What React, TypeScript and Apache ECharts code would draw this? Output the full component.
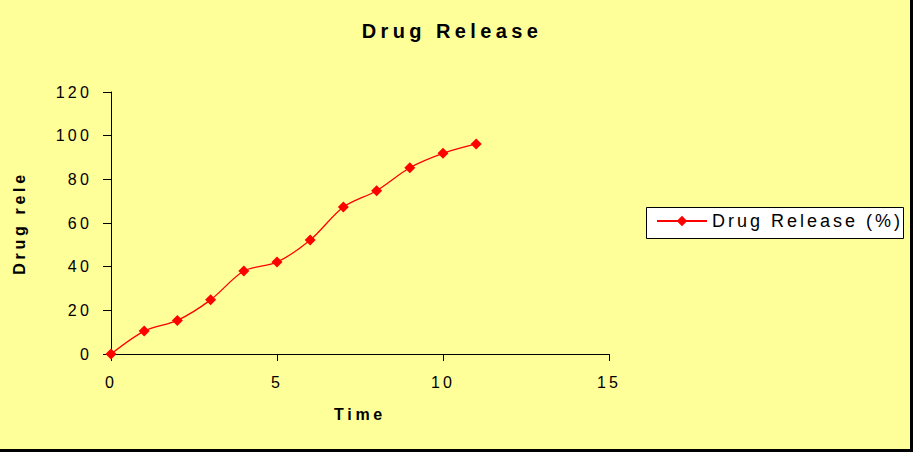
import React, { useEffect, useRef } from "react";
import * as echarts from "echarts";

const timePoints = [0, 1, 2, 3, 4, 5, 6, 7, 8, 9, 10, 11];
const releaseValues = [0, 10.5, 15.4, 24.8, 38, 42.1, 52.2, 67.3, 74.8, 85.3, 91.9, 96.2];
const xTicks = { min: 0, max: 15, interval: 5 };
const yTicks = { min: 0, max: 120, interval: 20 };
const seriesName = "Drug Release (%)";
const chartTitle = "Drug Release";
const xAxisTitle = "Time";
const yAxisTitle = "Drug rele";

export default function App() {
  const ref = useRef<HTMLDivElement>(null);
  useEffect(() => {
    if (!ref.current) return;
    const el = ref.current;
    const chart = echarts.init(el, undefined, { renderer: "svg" });
    const font = "'Liberation Sans', Arial, sans-serif";

    const spacingFor = (t: string): number => {
      if (t === chartTitle) return 4.4;
      if (t === seriesName) return 3;
      if (t === xAxisTitle || t === yAxisTitle) return 3.7;
      return 3.2;
    };
    const applySpacing = () => {
      el.querySelectorAll("text").forEach((node) => {
        const t = (node.textContent || "").trim();
        if (!t) return;
        (node as SVGTextElement).style.letterSpacing = spacingFor(t) + "px";
      });
    };
    chart.on("finished", applySpacing);

    chart.setOption({
      animation: false,
      backgroundColor: "#FFFF99",
      title: {
        text: chartTitle,
        left: 447,
        top: 16,
        textAlign: "center",
        textStyle: { fontFamily: font, fontSize: 20, fontWeight: "bold", color: "#000" },
      },
      grid: { left: 111, right: 311, top: 92, bottom: 98, containLabel: false },
      legend: {
        show: true,
        orient: "vertical",
        left: 646,
        top: 206,
        backgroundColor: "transparent",
        borderWidth: 0,
        padding: [6, 2, 7, 10],
        itemWidth: 50,
        itemHeight: 13,
        itemGap: 6,
        textStyle: { fontFamily: font, fontSize: 18, color: "#000" },
        data: [{ name: seriesName }],
      },
      xAxis: {
        type: "value",
        min: xTicks.min,
        max: xTicks.max,
        interval: xTicks.interval,
        name: xAxisTitle,
        nameLocation: "middle",
        nameGap: 52,
        nameTextStyle: { fontFamily: font, fontSize: 16, fontWeight: "bold", color: "#000" },
        axisLine: { lineStyle: { color: "#000", width: 1 } },
        axisTick: { show: true, inside: false, length: 7, lineStyle: { color: "#000" } },
        axisLabel: { fontFamily: font, fontSize: 16, color: "#000", margin: 20 },
        splitLine: { show: false },
      },
      yAxis: {
        type: "value",
        min: yTicks.min,
        max: yTicks.max,
        interval: yTicks.interval,
        name: yAxisTitle,
        nameLocation: "middle",
        nameRotate: 90,
        nameGap: 84,
        nameTextStyle: { fontFamily: font, fontSize: 16, fontWeight: "bold", color: "#000" },
        axisLine: { show: true, lineStyle: { color: "#000", width: 1 } },
        axisTick: { show: true, inside: false, length: 8, lineStyle: { color: "#000" } },
        axisLabel: { fontFamily: font, fontSize: 16, color: "#000", margin: 19 },
        splitLine: { show: false },
      },
      series: [
        {
          name: seriesName,
          type: "line",
          smooth: 0.3,
          data: timePoints.map((t, i) => [t, releaseValues[i]]),
          symbol: "diamond",
          symbolSize: 11,
          itemStyle: { color: "#FF0000" },
          lineStyle: { color: "#FF0000", width: 1.3 },
        },
      ],
      graphic: [
        {
          type: "rect",
          z: 1,
          shape: { x: 646.5, y: 207.5, width: 257, height: 31 },
          style: { fill: "#FFFFFF", stroke: "#000", lineWidth: 1 },
          silent: true,
        },
        { type: "rect", shape: { x: 910, y: 0, width: 3, height: 452 }, style: { fill: "#000" }, silent: true },
        { type: "rect", shape: { x: 913, y: 0, width: 7, height: 452 }, style: { fill: "#FFFFFF" }, silent: true },
        { type: "rect", shape: { x: 0, y: 449, width: 913, height: 3 }, style: { fill: "#000" }, silent: true },
      ],
    });
    applySpacing();
    const raf = requestAnimationFrame(applySpacing);
    return () => {
      cancelAnimationFrame(raf);
      chart.dispose();
    };
  }, []);
  return (
    <div
      ref={ref}
      style={{ position: "fixed", left: 0, top: 0, width: 920, height: 452 }}
    />
  );
}
